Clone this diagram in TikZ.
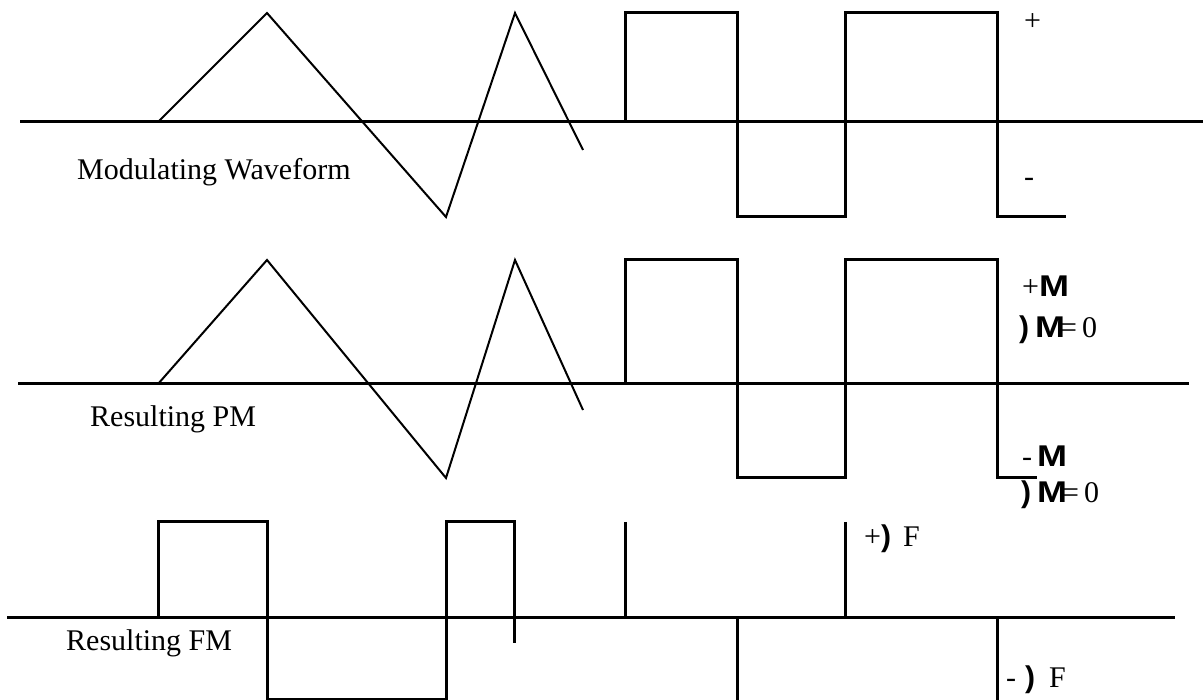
\documentclass[tikz,border=0pt]{standalone}
\usepackage{graphicx}
\usepackage{fontspec}
\setmainfont{Liberation Serif}
\newfontfamily\asans{Liberation Sans}
\newcommand{\bigM}{{\asans\bfseries\scalebox{1.2}[1]{M}}}
\newcommand{\dsym}{{\asans\bfseries )}}
\begin{document}
\begin{tikzpicture}[x=1pt,y=-1pt,
  axis/.style={line width=3pt},
  tri/.style={line width=2pt,line join=miter},
  sq/.style={line width=3pt,line join=miter},
  lbl/.style={inner sep=0pt,anchor=base west,font=\fontsize{30}{36}\selectfont},
  sym/.style={inner sep=0pt,anchor=base west,font=\fontsize{30}{36}\selectfont}]
\useasboundingbox (0,0) rectangle (1203,700);
% ---------- top panel: modulating waveform ----------
\draw[axis] (20,122) -- (1203,122);
\draw[tri] (158,122) -- (267,13) -- (446,217) -- (515,13) -- (583,150);
\draw[sq] (625,122) -- (625,13) -- (737,13) -- (737,217) -- (845,217) -- (845,13) -- (997,13) -- (997,217) -- (1066,217);
\node[lbl] (modlbl) at (77,180) {Modulating Waveform};
\node[sym] (plus1) at (1024,31) {+};
\node[sym] (minus1) at (1024,187) {-};
% ---------- middle panel: PM ----------
\draw[axis] (18,384) -- (1189,384);
\draw[tri] (158,384) -- (267,260) -- (446,478) -- (515,260) -- (583,410);
\draw[sq] (625,384) -- (625,260) -- (737,260) -- (737,478) -- (845,478) -- (845,260) -- (997,260) -- (997,478) -- (1037,478);
\node[lbl] (pmlbl) at (90,427) {Resulting PM};
\node[sym] (pmplus) at (1022,297) {+\bigM};
\node[sym] (pmdm1) at (1019,338) {\dsym\kern6pt\bigM\kern-5pt=\,0};
\node[sym] (pmminus) at (1022,467) {-\kern5pt\bigM};
\node[sym] (pmdm2) at (1021,503) {\dsym\kern6pt\bigM\kern-5pt=\,0};
% ---------- bottom panel: FM ----------
\draw[axis] (7,617) -- (1175,617);
\draw[sq] (158,617) -- (158,522) -- (267,522) -- (267,699) -- (446,699) -- (446,522) -- (514,522) -- (514,643);
\draw[sq] (625,522) -- (625,617);
\draw[sq] (737,617) -- (737,700);
\draw[sq] (845,522) -- (845,617);
\draw[sq] (997,617) -- (997,700);
\node[lbl] (fmlbl) at (66,650) {Resulting FM};
\node[sym] (fmplus) at (864,547) {+\dsym\kern12pt F};
\node[sym] (fmminus) at (1006,687) {-\kern9pt\dsym\kern14pt F};
\end{tikzpicture}
\end{document}
